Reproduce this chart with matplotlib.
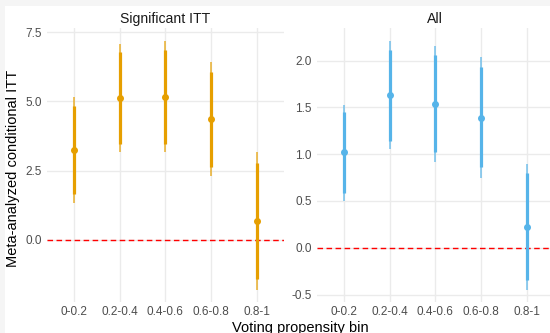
import matplotlib.pyplot as plt
import numpy as np

bins = ["0-0.2", "0.2-0.4", "0.4-0.6", "0.6-0.8", "0.8-1"]

# Significant ITT panel
sig_est = [3.25, 5.12, 5.17, 4.36, 0.69]
sig_lo_in = [1.66, 3.47, 3.47, 2.62, -1.41]
sig_hi_in = [4.84, 6.78, 6.87, 6.07, 2.77]
sig_lo_out = [1.34, 3.18, 3.18, 2.31, -1.82]
sig_hi_out = [5.15, 7.08, 7.19, 6.41, 3.18]

# All panel
all_est = [1.02, 1.63, 1.54, 1.39, 0.22]
all_lo_in = [0.59, 1.14, 1.02, 0.86, -0.34]
all_hi_in = [1.45, 2.11, 2.06, 1.93, 0.80]
all_lo_out = [0.50, 1.05, 0.92, 0.75, -0.45]
all_hi_out = [1.53, 2.21, 2.16, 2.04, 0.90]

plt.rcParams["font.family"] = ["Liberation Sans", "DejaVu Sans"]

fig = plt.figure(figsize=(5.5, 3.33), dpi=100, facecolor="#f5f5f5")
fig.patches.append(plt.Rectangle((5 / 550, 0), 1, 1 - 6 / 333, transform=fig.transFigure,
                                 facecolor="white", edgecolor="none", zorder=-10))

W, H = 550, 333
bottom = 1 - 302.3 / H
height = (302.3 - 28.5) / H
ax1 = fig.add_axes([46.6 / W, bottom, 237.4 / W, height])
ax2 = fig.add_axes([316.6 / W, bottom, 237.4 / W, height])

panels = [
    (ax1, "Significant ITT", "#E69F00", sig_est, sig_lo_in, sig_hi_in, sig_lo_out, sig_hi_out,
     [0.0, 2.5, 5.0, 7.5]),
    (ax2, "All", "#56B4E9", all_est, all_lo_in, all_hi_in, all_lo_out, all_hi_out,
     [-0.5, 0.0, 0.5, 1.0, 1.5, 2.0]),
]

x = np.arange(len(bins))
for ax, title, col, est, lo_i, hi_i, lo_o, hi_o, yt in panels:
    ax.set_facecolor("none")
    ax.vlines(x, lo_o, hi_o, color=col, lw=1.2, alpha=0.75, zorder=3)
    ax.vlines(x, lo_i, hi_i, color=col, lw=2.3, zorder=4)
    ax.plot(x, est, "o", color=col, ms=4, zorder=5)
    ax.axhline(0, color="red", lw=1.0, ls=(0, (4, 2.5)), zorder=2)
    lo = min(lo_o)
    hi = max(hi_o)
    pad = (hi - lo) * 0.05
    ax.set_ylim(lo - pad, hi + pad)
    ax.set_xlim(-0.6, len(bins) - 0.4)
    ax.set_xticks(x)
    ax.set_xticklabels(bins)
    ax.set_yticks(yt)
    ax.set_yticklabels([f"{v:.1f}" for v in yt])
    ax.grid(True, color="#EBEBEB", lw=1.0, zorder=0)
    ax.set_axisbelow(True)
    for s in ax.spines.values():
        s.set_visible(False)
    ax.tick_params(length=0, labelsize=8.5, colors="#4D4D4D")
    ax.tick_params(axis="x", pad=3)
    ax.tick_params(axis="y", pad=3.5)
    ax.set_title(title, fontsize=10.1, color="#1A1A1A", pad=4)

fig.text(13 / W, 1 - 168 / H, "Meta-analyzed conditional ITT", rotation=90,
         ha="center", va="center", fontsize=10.5)
fig.text(300 / W, 1 / H, "Voting propensity bin", ha="center", va="baseline", fontsize=10.5)

fig.savefig("out.png", dpi=100, facecolor=fig.get_facecolor())
